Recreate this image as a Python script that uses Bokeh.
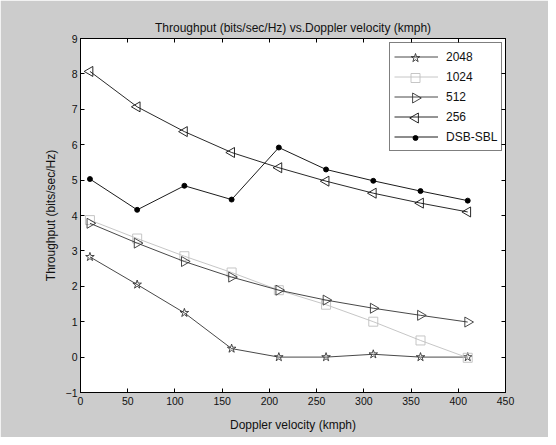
import math
from bokeh.plotting import figure
from bokeh.models import LinearAxis, FixedTicker, Range1d, Legend, LegendItem
from bokeh.embed import file_html
from bokeh.resources import INLINE

velocity = [10, 60, 110, 160, 210, 260, 310, 360, 410]
tp_2048 = [2.83, 2.05, 1.25, 0.24, 0.0, 0.0, 0.08, 0.0, 0.0]
tp_1024 = [3.87, 3.35, 2.85, 2.39, 1.89, 1.48, 1.0, 0.47, -0.02]
tp_512 = [3.78, 3.22, 2.70, 2.26, 1.89, 1.61, 1.38, 1.18, 0.99]
tp_256 = [8.07, 7.07, 6.37, 5.78, 5.35, 4.97, 4.63, 4.35, 4.10]
tp_dsb = [5.03, 4.16, 4.84, 4.45, 5.92, 5.30, 4.98, 4.69, 4.42]

x_ticks = [0, 50, 100, 150, 200, 250, 300, 350, 400, 450]
y_ticks = [-1, 0, 1, 2, 3, 4, 5, 6, 7, 8, 9]

FONT = "Liberation Sans"
TXT = "#111111"
BG = "#cccccc"
X0, X1, Y0, Y1 = 0, 450, -1, 9

FW, FH = 425, 354
p = figure(frame_width=FW, frame_height=FH,
           min_border_left=80, min_border_right=43,
           min_border_top=38, min_border_bottom=45,
           x_range=Range1d(X0, X1), y_range=Range1d(Y0, Y1),
           output_backend="svg", toolbar_location=None,
           background_fill_color="white", border_fill_color=BG,
           title="Throughput (bits/sec/Hz) vs.Doppler velocity (kmph)")

p.title.align = "center"
p.title.text_font = FONT
p.title.text_font_size = "12px"
p.title.text_font_style = "normal"
p.title.text_color = TXT
p.title.standoff = 8

p.outline_line_color = "black"
p.outline_line_width = 1
p.grid.visible = False

for ax in (p.xaxis[0], p.yaxis[0]):
    ax.major_tick_in = 4
    ax.major_tick_out = 0
    ax.minor_tick_in = 0
    ax.minor_tick_out = 0
    ax.axis_line_color = "black"
    ax.major_tick_line_color = "black"
    ax.major_label_text_font = FONT
    ax.major_label_text_font_size = "10.5px"
    ax.major_label_text_color = TXT
    ax.axis_label_text_font = FONT
    ax.axis_label_text_font_size = "12px"
    ax.axis_label_text_font_style = "normal"
    ax.axis_label_text_color = TXT

p.xaxis[0].ticker = FixedTicker(ticks=x_ticks)
p.yaxis[0].ticker = FixedTicker(ticks=y_ticks)
p.xaxis[0].axis_label = "Doppler velocity (kmph)"
p.yaxis[0].axis_label = "Throughput (bits/sec/Hz)"
p.xaxis[0].major_label_standoff = 4
p.yaxis[0].major_label_standoff = 3
p.xaxis[0].axis_label_standoff = 10
p.yaxis[0].axis_label_standoff = 5

right = LinearAxis(ticker=FixedTicker(ticks=y_ticks))
top = LinearAxis(ticker=FixedTicker(ticks=x_ticks))
for ax in (right, top):
    ax.major_tick_in = 4
    ax.major_tick_out = 0
    ax.minor_tick_in = 0
    ax.minor_tick_out = 0
    ax.major_label_text_font_size = "1px"
    ax.major_label_text_color = None
    ax.major_label_standoff = 0
    ax.axis_line_color = "black"
p.add_layout(right, "right")
p.add_layout(top, "above")

series = [
    ("2048", tp_2048, "#333333", "star", 9, 0),
    ("1024", tp_1024, "#c0c0c0", "square", 9, 0),
    ("512", tp_512, "#333333", "triangle", 10, -math.pi / 2),
    ("256", tp_256, "#111111", "triangle", 10, math.pi / 2),
    ("DSB-SBL", tp_dsb, "#000000", "circle", 5, 0),
]

# legend geometry (pixels, relative to the frame's bottom-left)
PAD, ROW, SP, GW, STAND = 4, 19, 1, 44, 8
LEG_W, LEG_H = 111, 5 * ROW + 4 * SP + 2 * PAD
leg_x = FW - 5 - LEG_W
leg_y = FH - 6 - LEG_H
key_px = leg_x + PAD + GW / 2
key_x = X0 + key_px * (X1 - X0) / FW

items = []
for i, (name, ys, color, marker, size, ang) in enumerate(series):
    fill = color if marker == "circle" else None
    r1 = p.line(velocity, ys, line_color=color, line_width=0.9)
    p.scatter(velocity, ys, marker=marker, size=size, angle=ang,
              line_color=color, line_width=0.9, fill_color=fill)
    items.append(LegendItem(label=name, renderers=[r1]))
    # legend key marker (Bokeh legends ignore marker angle, so the key
    # markers are drawn separately at the legend row's centre)
    key_py = FH - 6 - PAD - ROW / 2 - i * (ROW + SP)
    key_y = Y0 + key_py * (Y1 - Y0) / FH
    p.scatter([key_x], [key_y], marker=marker, size=size, angle=ang,
              line_color=color, line_width=0.9, fill_color=fill)

legend = Legend(items=items, location=(leg_x, leg_y))
legend.border_line_color = "black"
legend.border_line_width = 1
legend.background_fill_alpha = 0
legend.label_text_font = FONT
legend.label_text_font_size = "12px"
legend.label_text_color = TXT
legend.glyph_width = GW
legend.glyph_height = ROW
legend.label_height = ROW
legend.spacing = SP
legend.padding = PAD
legend.margin = 0
legend.label_standoff = STAND
p.add_layout(legend)

open("out.html", "w").write(file_html(p, INLINE))
